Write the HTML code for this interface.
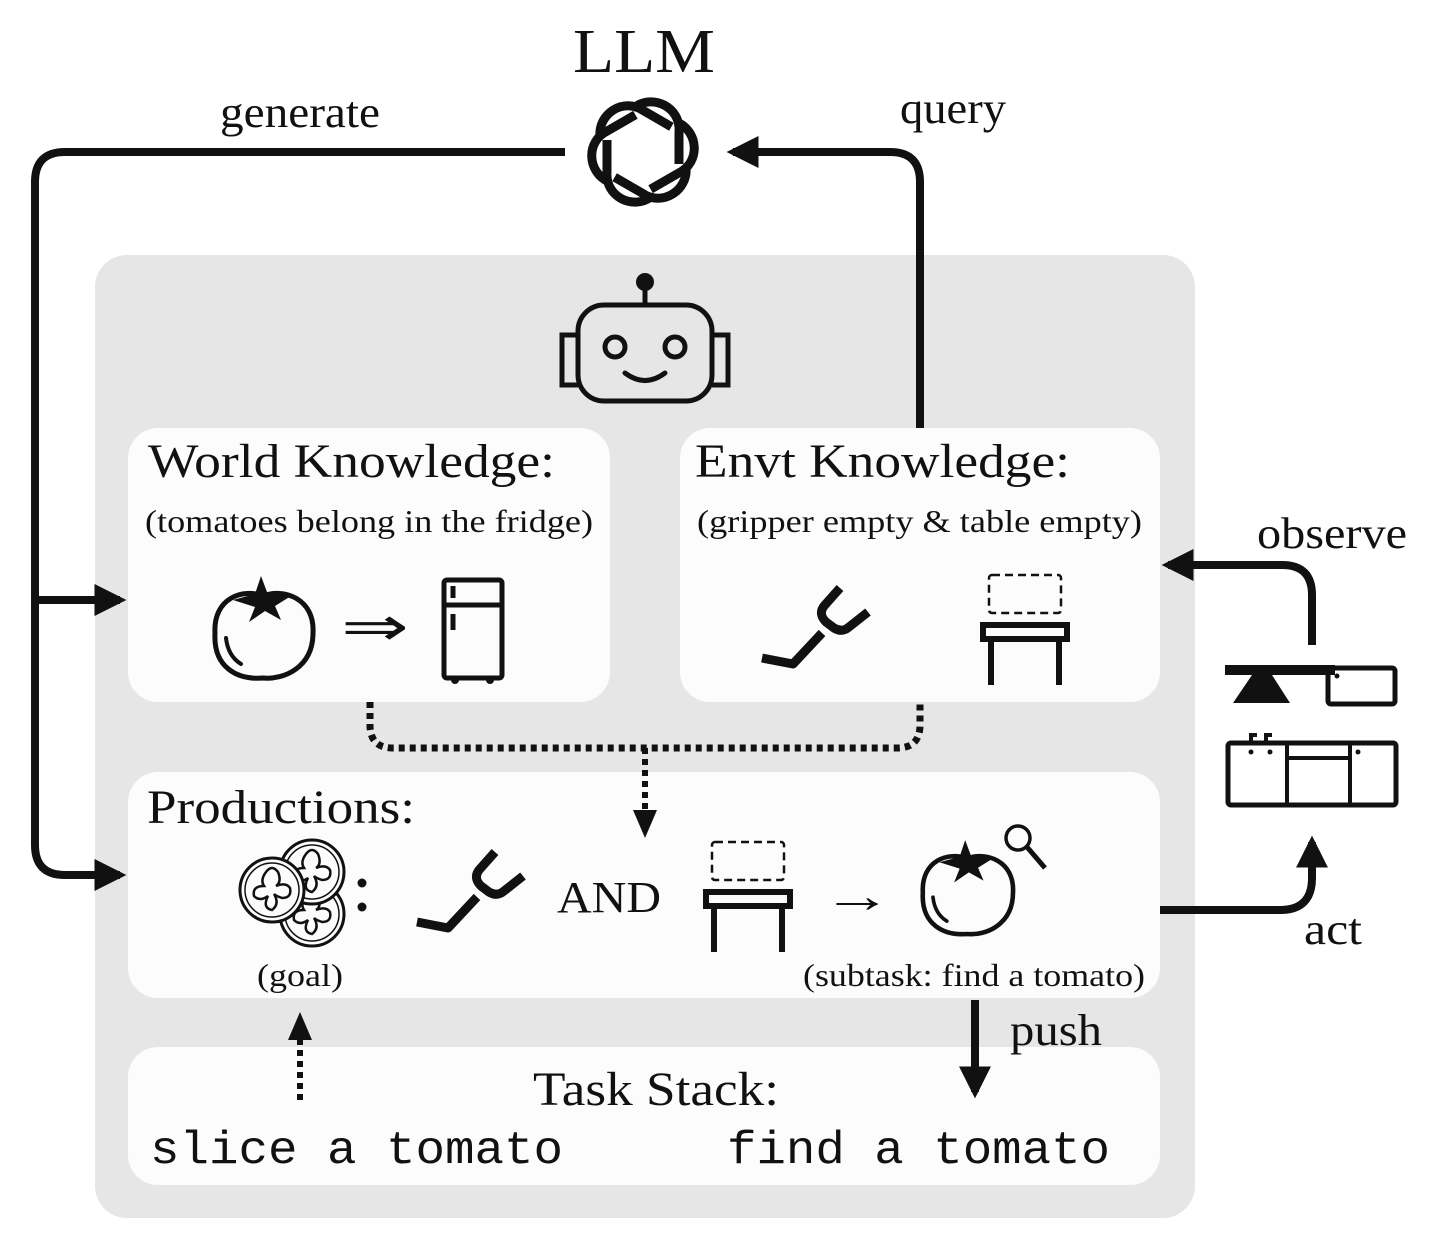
<!DOCTYPE html>
<html><head><meta charset="utf-8"><style>
html,body{margin:0;padding:0;background:#fff}
svg{display:block}
text{font-family:"Liberation Serif",serif;fill:#111}
.m{font-family:"Liberation Mono",monospace;font-weight:normal}
</style></head><body>
<svg width="1430" height="1250" viewBox="0 0 1430 1250" xmlns="http://www.w3.org/2000/svg">
<defs>
<marker id="ah" viewBox="0 0 10 10" refX="8" refY="5" markerWidth="4" markerHeight="4" orient="auto-start-reverse" markerUnits="strokeWidth"><path d="M0,0 L10,5 L0,10 z" fill="#111"/></marker>
<g id="grip" fill="none" stroke="#111" stroke-width="9" stroke-linejoin="round"><path d="M0,0 L31,6 L60,-25"/><path d="M78,-70 L62,-52 Q56,-44 64,-36 L72,-30 Q80,-25 87,-31 L106,-46"/></g>
<g id="table"><rect x="6" y="0" width="72" height="38" fill="none" stroke="#111" stroke-width="2.5" stroke-dasharray="8,5" rx="3"/><rect x="0" y="50" width="84" height="14" fill="none" stroke="#111" stroke-width="6"/><path d="M8,64 V110 M76,64 V110" stroke="#111" stroke-width="6"/></g>
<g id="tom"><path d="M-48,5 C-50,-30 -20,-40 0,-32 C20,-40 52,-30 50,5 C50,40 20,52 0,50 C-25,52 -50,40 -48,5 Z" fill="none" stroke="#111" stroke-width="5"/><path d="M-2,-52 L4,-36 L28,-32 L12,-22 L18,-8 L2,-17 L-14,-6 L-8,-21 L-30,-28 L-8,-34 Z" fill="#111"/><path d="M-37,10 Q-35,28 -22,36" fill="none" stroke="#111" stroke-width="4" stroke-linecap="round"/></g>
<g id="slice"><circle r="32" fill="#fcfcfc" stroke="#111" stroke-width="3"/><circle r="27" fill="none" stroke="#111" stroke-width="1.5"/><path d="M-6,-18 Q0,-26 6,-18 Q10,-8 4,-4 Q14,-8 18,-2 Q20,8 10,8 Q4,6 2,4 Q8,14 0,20 Q-10,18 -4,6 Q-12,12 -18,6 Q-20,-4 -8,-4 Q-12,-10 -6,-18Z" fill="none" stroke="#111" stroke-width="2.5"/></g>
</defs>
<rect x="95" y="255" width="1100" height="963" rx="32" fill="#e6e6e6"/>
<rect x="128" y="428" width="482" height="274" rx="30" fill="#fcfcfc"/>
<rect x="680" y="428" width="480" height="274" rx="30" fill="#fcfcfc"/>
<rect x="128" y="772" width="1032" height="226" rx="30" fill="#fcfcfc"/>
<rect x="128" y="1047" width="1032" height="138" rx="30" fill="#fcfcfc"/>

<text x="573" y="72" font-size="62" textLength="142" lengthAdjust="spacingAndGlyphs">LLM</text>
<text x="220" y="127" font-size="44" textLength="160" lengthAdjust="spacingAndGlyphs">generate</text>
<text x="900" y="123" font-size="44" textLength="106" lengthAdjust="spacingAndGlyphs">query</text>
<g transform="translate(643,152)" fill="none" stroke="#111" stroke-width="9">
<g id="pet"><path d="M-8,-45 C10,-58 38,-45 36,-20 L36,12"/></g>
<use href="#pet" transform="rotate(60)"/><use href="#pet" transform="rotate(120)"/><use href="#pet" transform="rotate(180)"/><use href="#pet" transform="rotate(240)"/><use href="#pet" transform="rotate(300)"/>
</g>
<path d="M565,152 H65 Q35,152 35,182 V845 Q35,875 65,875 H120" fill="none" stroke="#111" stroke-width="8" marker-end="url(#ah)"/>
<path d="M35,600 H120" fill="none" stroke="#111" stroke-width="8" marker-end="url(#ah)"/>
<path d="M920,428 V182 Q920,152 890,152 H733" fill="none" stroke="#111" stroke-width="8" marker-end="url(#ah)"/>

<g fill="none" stroke="#111" stroke-width="5">
<rect x="578" y="305" width="134" height="96" rx="26"/>
<path d="M578,335 H562 V385 H578 M712,335 H728 V385 H712"/>
<path d="M645,285 V305"/>
<circle cx="615" cy="347" r="10"/><circle cx="675" cy="347" r="10"/>
<path d="M625,373 Q645,388 665,373" stroke-linecap="round"/>
</g>
<circle cx="645" cy="282" r="9" fill="#111"/>

<text x="148" y="477" font-size="48" textLength="407" lengthAdjust="spacingAndGlyphs">World Knowledge:</text>
<text x="145" y="532" font-size="32" textLength="448" lengthAdjust="spacingAndGlyphs">(tomatoes belong in the fridge)</text>
<text x="695" y="477" font-size="48" textLength="375" lengthAdjust="spacingAndGlyphs">Envt Knowledge:</text>
<text x="697" y="532" font-size="32" textLength="445" lengthAdjust="spacingAndGlyphs">(gripper empty &amp; table empty)</text>
<use href="#tom" transform="translate(263,628)"/>
<text x="341" y="645" font-size="54" textLength="68" lengthAdjust="spacingAndGlyphs">⇒</text>
<g fill="none" stroke="#111" stroke-width="5"><rect x="444" y="580" width="58" height="98" rx="3"/><path d="M444,605 H502 M453,586 V598 M453,614 V630"/></g>
<circle cx="455" cy="680" r="4" fill="#111"/><circle cx="490" cy="680" r="4" fill="#111"/>
<use href="#grip" transform="translate(762,658)"/>
<use href="#table" transform="translate(983,575)"/>

<path d="M370,702 V725 Q370,748 393,748 H897 Q920,748 920,725 V702" fill="none" stroke="#111" stroke-width="7" stroke-dasharray="6,5"/>
<path d="M645,748 V810" stroke="#111" stroke-width="6" stroke-dasharray="6,5"/>
<path d="M633,810 L657,810 L645,838 Z" fill="#111"/>

<text x="147" y="823" font-size="48" textLength="268" lengthAdjust="spacingAndGlyphs">Productions:</text>
<use href="#slice" transform="translate(312,914)"/>
<use href="#slice" transform="translate(312,872)"/>
<use href="#slice" transform="translate(272,890)"/>
<circle cx="362" cy="883" r="4.5" fill="#111"/><circle cx="362" cy="907" r="4.5" fill="#111"/>
<use href="#grip" transform="translate(417,922)"/>
<text x="557" y="912" font-size="44" textLength="104" lengthAdjust="spacingAndGlyphs">AND</text>
<use href="#table" transform="translate(706,842)"/>
<text x="822" y="912" font-size="48" textLength="70" lengthAdjust="spacingAndGlyphs">→</text>
<use href="#tom" transform="translate(967,888) scale(0.92)"/>
<circle cx="1018" cy="838" r="12" fill="none" stroke="#111" stroke-width="3.5"/>
<path d="M1027,847 L1045,868" stroke="#111" stroke-width="5"/>
<text x="257" y="986" font-size="32" textLength="86" lengthAdjust="spacingAndGlyphs">(goal)</text>
<text x="803" y="986" font-size="32" textLength="342" lengthAdjust="spacingAndGlyphs">(subtask: find a tomato)</text>

<g fill="none" stroke="#111" stroke-width="5">
<rect x="1328" y="668" width="67" height="36" rx="3"/>
<rect x="1228" y="743" width="168" height="62" rx="3"/>
<path d="M1287,743 V805 M1350,743 V805 M1287,758 H1350 M1251,743 V735 H1257 M1266,743 V735 H1272" stroke-width="4"/>
</g>
<rect x="1225" y="665" width="110" height="10" fill="#111"/>
<path d="M1252,675 H1272 L1290,703 H1233 Z" fill="#111"/>
<circle cx="1337" cy="676" r="2.5" fill="#111"/><circle cx="1251" cy="752" r="2.5" fill="#111"/><circle cx="1270" cy="752" r="2.5" fill="#111"/><circle cx="1358" cy="752" r="2.5" fill="#111"/>

<text x="1257" y="548" font-size="44" textLength="150" lengthAdjust="spacingAndGlyphs">observe</text>
<path d="M1312,645 V595 Q1312,565 1282,565 H1168" fill="none" stroke="#111" stroke-width="8" marker-end="url(#ah)"/>
<text x="1304" y="944" font-size="44" textLength="58" lengthAdjust="spacingAndGlyphs">act</text>
<path d="M1160,910 H1280 Q1312,910 1312,878 V842" fill="none" stroke="#111" stroke-width="8" marker-end="url(#ah)"/>

<text x="1010" y="1045" font-size="44" textLength="92" lengthAdjust="spacingAndGlyphs">push</text>
<path d="M975,1000 V1092" fill="none" stroke="#111" stroke-width="8" marker-end="url(#ah)"/>
<path d="M300,1100 V1040" stroke="#111" stroke-width="6" stroke-dasharray="6,5"/>
<path d="M288,1040 L312,1040 L300,1012 Z" fill="#111"/>

<text x="533" y="1105" font-size="48" textLength="246" lengthAdjust="spacingAndGlyphs">Task Stack:</text>
<text class="m" x="150" y="1163" font-size="46" textLength="413" lengthAdjust="spacingAndGlyphs">slice a tomato</text>
<text class="m" x="727" y="1163" font-size="46" textLength="383" lengthAdjust="spacingAndGlyphs">find a tomato</text>
</svg>
</body></html>
